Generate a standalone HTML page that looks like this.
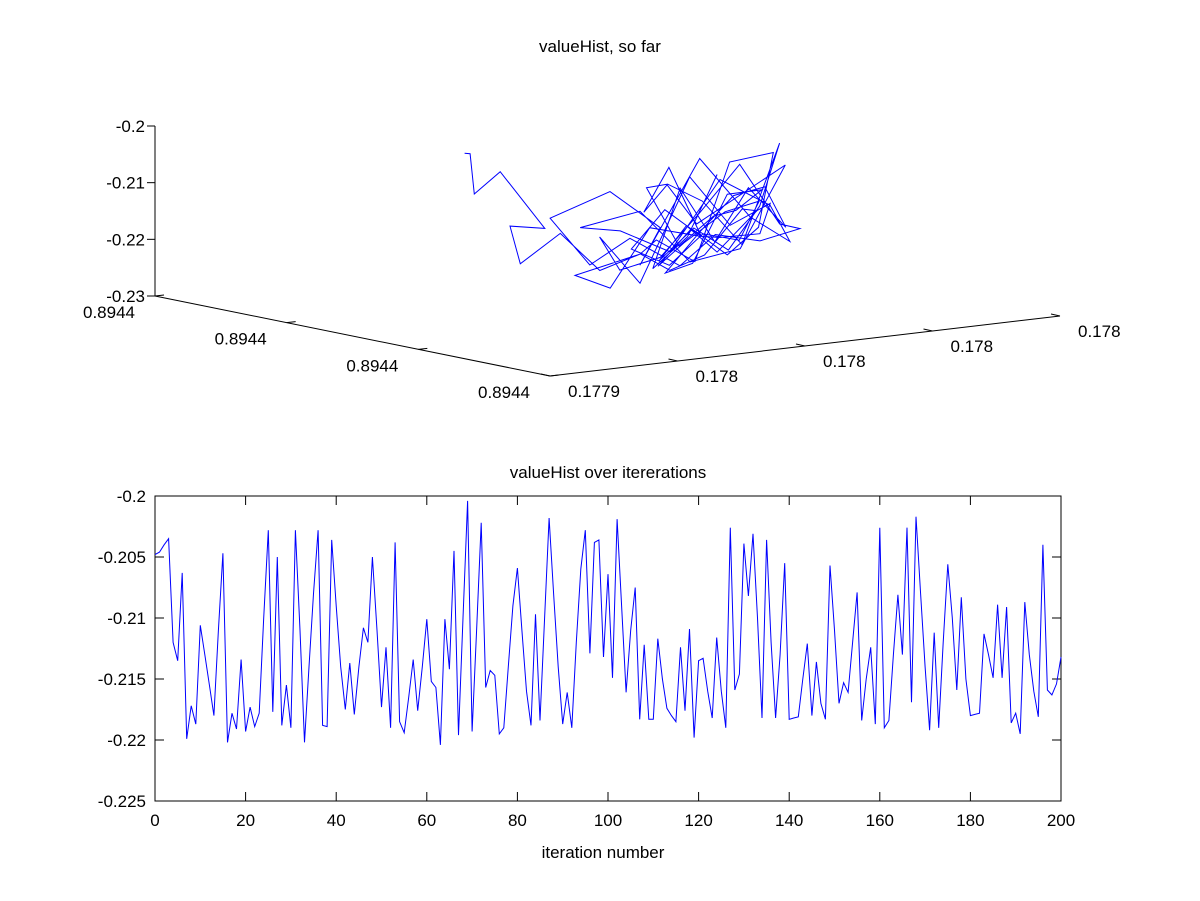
<!DOCTYPE html>
<html><head><meta charset="utf-8">
<style>
html,body{margin:0;padding:0;background:#fff;}
svg{display:block;font-family:"Liberation Sans",sans-serif;}
</style></head>
<body>
<svg id="fig" width="1200" height="901" viewBox="0 0 1200 901" xmlns="http://www.w3.org/2000/svg">
<rect width="1200" height="901" fill="#fff"/>
</svg>
<script>
// ---- bottom chart data ----
const iterValues = [-0.2048,-0.2046,-0.2040,-0.2035,-0.2120,-0.2135,-0.2063,-0.2199,-0.2172,-0.2187,-0.2106,-0.2130,-0.2155,-0.2180,-0.2110,-0.2047,-0.2202,-0.2178,-0.2191,-0.2134,-0.2193,-0.2173,-0.2189,-0.2178,-0.2100,-0.2028,-0.2177,-0.2050,-0.2188,-0.2155,-0.2190,-0.2028,-0.2110,-0.2202,-0.2140,-0.2080,-0.2028,-0.2188,-0.2189,-0.2036,-0.2090,-0.2140,-0.2175,-0.2137,-0.2179,-0.2140,-0.2108,-0.2120,-0.2050,-0.2110,-0.2173,-0.2124,-0.2190,-0.2038,-0.2185,-0.2194,-0.2165,-0.2134,-0.2176,-0.2140,-0.2101,-0.2152,-0.2157,-0.2204,-0.2101,-0.2142,-0.2045,-0.2196,-0.2100,-0.2004,-0.2193,-0.2110,-0.2022,-0.2157,-0.2143,-0.2147,-0.2195,-0.2190,-0.2140,-0.2090,-0.2059,-0.2110,-0.2160,-0.2188,-0.2097,-0.2184,-0.2100,-0.2018,-0.2080,-0.2140,-0.2187,-0.2161,-0.2190,-0.2120,-0.2060,-0.2028,-0.2129,-0.2038,-0.2036,-0.2132,-0.2064,-0.2149,-0.2019,-0.2090,-0.2161,-0.2110,-0.2075,-0.2183,-0.2122,-0.2183,-0.2183,-0.2117,-0.2150,-0.2174,-0.2180,-0.2185,-0.2124,-0.2176,-0.2109,-0.2198,-0.2135,-0.2133,-0.2160,-0.2182,-0.2116,-0.2160,-0.2190,-0.2026,-0.2159,-0.2146,-0.2039,-0.2082,-0.2031,-0.2100,-0.2182,-0.2036,-0.2120,-0.2182,-0.2130,-0.2055,-0.2183,-0.2182,-0.2181,-0.2150,-0.2121,-0.2180,-0.2136,-0.2170,-0.2183,-0.2057,-0.2110,-0.2170,-0.2153,-0.2161,-0.2120,-0.2079,-0.2184,-0.2150,-0.2124,-0.2187,-0.2026,-0.2190,-0.2184,-0.2130,-0.2081,-0.2130,-0.2026,-0.2169,-0.2017,-0.2080,-0.2140,-0.2192,-0.2112,-0.2190,-0.2120,-0.2056,-0.2100,-0.2159,-0.2083,-0.2150,-0.2180,-0.2179,-0.2178,-0.2113,-0.2130,-0.2149,-0.2089,-0.2149,-0.2091,-0.2186,-0.2178,-0.2195,-0.2087,-0.2130,-0.2160,-0.2181,-0.2040,-0.2159,-0.2163,-0.2154,-0.2132];
const xTicks = [0,20,40,60,80,100,120,140,160,180,200];
const yTicks = [-0.2,-0.205,-0.21,-0.215,-0.22,-0.225];
const yTickLabels = ["-0.2","-0.205","-0.21","-0.215","-0.22","-0.225"];
// ---- 3D chart data (normalized positions along the two floor axes) ----
const trajA = [.288,.333,.297,.400,.402,.647,.735,.733,.651,.609,.707,.858,.816,.586,.565,.563,.691,.693,.774,.847,.888,.788,.707,.705,.623,.581,.560,.642,.640,.805,.877,.800,.644,.740,.826,.688,.665,.633,.630,.572,.684,.756,.828,.751,.767,.735,.663,.626,
 .700,.780,.850,.720,.660,.800,.870,.760,.690,.640,.600,.720,.810,.860,.790,.700,.650,.610,.680,.760,.830,.880,.800,.720,.660,.620,.700,.790,.850,.770,.690,.640,.600,.660,.740,.820,.870,.810,.730,.670,.620,.700,.780,.840,.760,.690,.640,.590,.650,.720,.800,.860,.780,.700];
const trajB = [.384,.360,.396,.367,.453,.195,.147,.227,.368,.479,.276,.228,.338,.615,.670,.750,.671,.591,.449,.295,.184,.301,.443,.523,.664,.775,.831,.689,.603,.406,.252,.233,.276,.319,.351,.418,.553,.677,.757,.763,.578,.424,.271,.252,.357,.480,.634,.751,
 .520,.400,.300,.450,.560,.380,.260,.420,.540,.650,.720,.560,.410,.320,.440,.580,.680,.740,.600,.470,.340,.270,.390,.520,.640,.700,.560,.430,.330,.460,.590,.690,.760,.640,.500,.370,.290,.400,.530,.620,.710,.580,.450,.350,.480,.600,.700,.780,.660,.540,.410,.310,.440,.560];
const zTicks = [-0.2,-0.21,-0.22,-0.23];
const zTickLabels = ["-0.2","-0.21","-0.22","-0.23"];
const aTickLabels = ["0.8944","0.8944","0.8944","0.8944"];
const bTickLabels = ["0.1779","0.178","0.178","0.178","0.178"];

const NS = "http://www.w3.org/2000/svg";
const svg = document.getElementById('fig');
function mk(tag, attrs, parent){
  const e = document.createElementNS(NS, tag);
  for (const k in attrs) e.setAttribute(k, attrs[k]);
  (parent||svg).appendChild(e);
  return e;
}
function txt(s, x, y, anchor, parent){
  const t = mk('text', {x:x, y:y, 'font-size':17, 'text-anchor':anchor||'middle', fill:'#000'}, parent);
  t.textContent = s;
  return t;
}

// ===== Top 3D plot =====
const g3 = mk('g', {});


const t1 = txt('valueHist, so far', 600, 52, 'middle', g3);


const O = [155,296], AV = [395,80], BV = [510,-60];
const zMin = -0.23, zMax = -0.2, zH = 170;
function proj(a,b,z){
  return [O[0]+AV[0]*a+BV[0]*b, O[1]+AV[1]*a+BV[1]*b - (z-zMin)/(zMax-zMin)*zH];
}
const zAx = mk('line', {x1:155,y1:126,x2:155,y2:296,stroke:'#000','stroke-width':1}, g3);


const aAx = mk('line', {x1:155,y1:296,x2:550,y2:376,stroke:'#000','stroke-width':1}, g3);


const bAx = mk('line', {x1:550,y1:376,x2:1060,y2:316,stroke:'#000','stroke-width':1}, g3);


zTicks.forEach((z,i)=>{
  const p = proj(0,0,z);
  const tk = mk('line', {x1:p[0],y1:p[1],x2:p[0]-8,y2:p[1],stroke:'#000'}, g3);
  
  
  const l = txt(zTickLabels[i], 145, p[1]+6, 'end', g3);
  
  
});
aTickLabels.forEach((s,i)=>{
  const f = i/(aTickLabels.length-1);
  const p = proj(f,0,zMin);
  const tk = mk('line', {x1:p[0],y1:p[1],x2:p[0]+9,y2:p[1]-1,stroke:'#000'}, g3);
  
  
  const l = txt(s, p[0]-20, p[1]+22, 'end', g3);
  
  
});
bTickLabels.forEach((s,i)=>{
  const f = i/(bTickLabels.length-1);
  const p = proj(1,f,zMin);
  const tk = mk('line', {x1:p[0],y1:p[1],x2:p[0]-9,y2:p[1]-2,stroke:'#000'}, g3);
  
  
  const l = txt(s, p[0]+18, p[1]+21, 'start', g3);
  
  
});
{
  const pts = trajA.map((a,i)=>proj(a, trajB[i], iterValues[(i*2)%iterValues.length]));
  const pl = mk('polyline', {points: pts.map(p=>p[0].toFixed(1)+','+p[1].toFixed(1)).join(' '), fill:'none', stroke:'#0000ff','stroke-width':1}, g3);
  
  
}

// ===== Bottom line plot =====
const gb = mk('g', {});


const L=155, R=1061, T=496, B=801;
const xMin=0, xMax=200, yMin=-0.225, yMax=-0.2;
const sx = v => L + (v-xMin)/(xMax-xMin)*(R-L);
const sy = v => B - (v-yMin)/(yMax-yMin)*(B-T);
const t2 = txt('valueHist over itererations', 608, 478, 'middle', gb);


const frame = mk('rect', {x:L,y:T,width:R-L,height:B-T,fill:'none',stroke:'#000','stroke-width':1}, gb);


xTicks.forEach(v=>{
  const x = sx(v);
  const a = mk('line', {x1:x,y1:B,x2:x,y2:B-9,stroke:'#000'}, gb);
  
  
  const b = mk('line', {x1:x,y1:T,x2:x,y2:T+9,stroke:'#000'}, gb);
  
  
  const l = txt(String(v), x, 826, 'middle', gb);
  
  
});
yTicks.forEach((v,i)=>{
  const y = sy(v);
  const a = mk('line', {x1:L,y1:y,x2:L+9,y2:y,stroke:'#000'}, gb);
  
  
  const b = mk('line', {x1:R,y1:y,x2:R-9,y2:y,stroke:'#000'}, gb);
  
  
  const l = txt(yTickLabels[i], 146, y+6, 'end', gb);
  
  
});
const xl = txt('iteration number', 603, 858, 'middle', gb);


{
  const pts = iterValues.map((v,i)=>sx(i).toFixed(1)+','+sy(v).toFixed(1)).join(' ');
  const pl = mk('polyline', {points:pts, fill:'none', stroke:'#0000ff','stroke-width':1}, gb);
  
  
}
</script>
</body></html>
